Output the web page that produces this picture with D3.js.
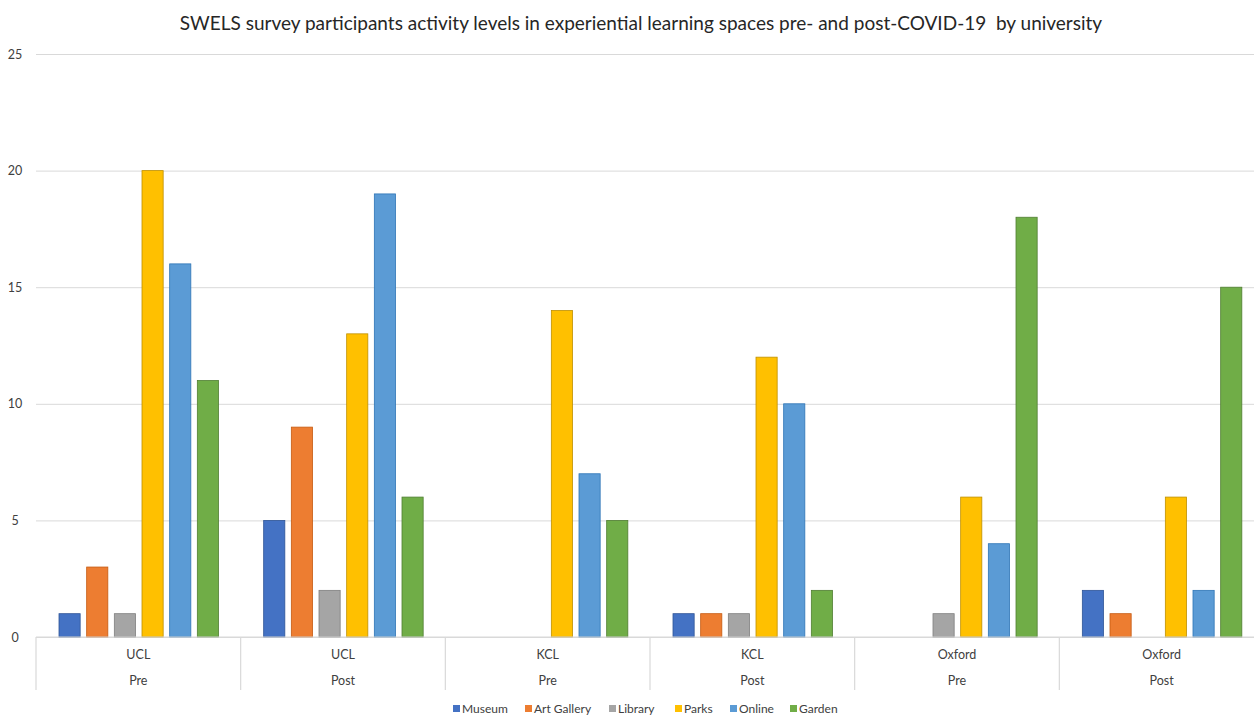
<!DOCTYPE html>
<html>
<head>
<meta charset="utf-8">
<title>SWELS survey</title>
<script src="https://d3js.org/d3.v7.min.js"></script>
<style>
  body { margin: 0; background: #fff; }
  svg text { font-family: "Lato", "Open Sans", sans-serif; }
</style>
</head>
<body>
<svg id="chart" width="1254" height="716"></svg>
<script>
const universities = ["UCL", "UCL", "KCL", "KCL", "Oxford", "Oxford"];
const periods = ["Pre", "Post", "Pre", "Post", "Pre", "Post"];
const seriesNames = ["Museum", "Art Gallery", "Library", "Parks", "Online", "Garden"];
const museum     = [1, 5, 0, 1, 0, 2];
const artGallery = [3, 9, 0, 1, 0, 1];
const library    = [1, 2, 0, 1, 1, 0];
const parks      = [20, 13, 14, 12, 6, 6];
const online     = [16, 19, 7, 10, 4, 2];
const garden     = [11, 6, 5, 2, 18, 15];
const yTicks = [0, 5, 10, 15, 20, 25];

const colors = ["#4472C4", "#ED7D31", "#A5A5A5", "#FFC000", "#5B9BD5", "#70AD47"];
const strokes = ["#2F5597", "#C55A11", "#7F7F7F", "#BF9000", "#2E75B6", "#507E32"];

const seriesValues = [museum, artGallery, library, parks, online, garden];
const groups = universities.map((u, i) => ({ key: i, uni: u, period: periods[i] }));

const svg = d3.select("#chart");
const plotLeft = 36, plotRight = 1264, plotTop = 54, plotBottom = 637;

const x0 = d3.scaleBand().domain(d3.range(groups.length)).range([plotLeft, plotRight]);
const x1 = d3.scaleBand().domain(seriesNames).range([23, 182.5]).paddingInner(0.235).paddingOuter(0);
const y = d3.scaleLinear().domain([0, 25]).range([plotBottom, plotTop]);

// title
svg.append("text")
  .attr("x", 641).attr("y", 30)
  .attr("text-anchor", "middle")
  .attr("font-size", 19)
  .attr("fill", "#262626")
  .style("white-space", "pre")
  .text("SWELS survey participants activity levels in experiential learning spaces pre- and post-COVID-19  by university");

// gridlines + y labels
const yAxis = svg.append("g")
  .attr("transform", `translate(${plotLeft},0)`)
  .call(d3.axisLeft(y).tickValues(yTicks).tickSize(-(plotRight - plotLeft)).tickPadding(14));
yAxis.select(".domain").remove();
yAxis.selectAll(".tick line").attr("stroke", "#d9d9d9").attr("stroke-width", 1);
yAxis.selectAll(".tick text").attr("font-size", 12.5).attr("fill", "#404040")
  .attr("text-anchor", "middle").attr("x", -21);

// bars
const g = svg.append("g");
groups.forEach((grp, gi) => {
  const gg = g.append("g").attr("transform", `translate(${x0(gi)},0)`);
  gg.selectAll("rect")
    .data(seriesNames.map((s, si) => ({ s, si, v: seriesValues[si][gi] })).filter(d => d.v > 0))
    .join("rect")
    .attr("x", d => x1(d.s))
    .attr("y", d => y(d.v))
    .attr("width", x1.bandwidth())
    .attr("height", d => y(0) - y(d.v))
    .attr("fill", d => colors[d.si])
    .attr("stroke", d => strokes[d.si])
    .attr("stroke-width", 0.8);
});

// category axis
svg.append("line").attr("x1", plotLeft).attr("x2", plotRight).attr("y1", y(0)).attr("y2", y(0))
  .attr("stroke", "#d9d9d9").attr("stroke-width", 1.2);
const cat = svg.append("g");
d3.range(groups.length + 1).forEach(i => {
  const xx = i < groups.length ? x0(i) : plotRight;
  cat.append("line").attr("x1", xx).attr("x2", xx).attr("y1", y(0)).attr("y2", 690)
    .attr("stroke", "#d9d9d9").attr("stroke-width", 1.2);
});
cat.selectAll("text.uni").data(groups).join("text")
  .attr("class", "uni")
  .attr("x", d => x0(d.key) + x0.bandwidth() / 2)
  .attr("y", 659)
  .attr("text-anchor", "middle").attr("font-size", 12.5).attr("fill", "#404040")
  .text(d => d.uni);
cat.selectAll("text.per").data(groups).join("text")
  .attr("class", "per")
  .attr("x", d => x0(d.key) + x0.bandwidth() / 2)
  .attr("y", 685)
  .attr("text-anchor", "middle").attr("font-size", 12.5).attr("fill", "#404040")
  .text(d => d.period);

// legend
const legend = svg.append("g");
const legendX = [453, 525, 609, 675, 730, 790];
seriesNames.forEach((s, i) => {
  const lg = legend.append("g").attr("transform", `translate(${legendX[i]},709)`);
  lg.append("rect").attr("x", 0).attr("y", -4).attr("width", 7).attr("height", 7).attr("fill", colors[i]);
  lg.append("text").attr("x", 9).attr("y", 4).attr("font-size", 12).attr("fill", "#404040").text(s);
});
</script>
</body>
</html>
